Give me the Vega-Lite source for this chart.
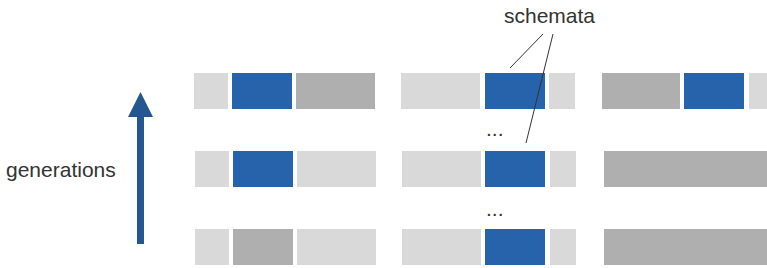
{
  "$schema": "https://vega.github.io/schema/vega-lite/v6.json",
  "width": 767,
  "height": 268,
  "autosize": "none",
  "padding": 0,
  "config": {"view": {"stroke": null}},
  "datasets": {
    "segments": [
      {"gen": 3, "start": 194, "end": 228, "type": "light"},
      {"gen": 3, "start": 232, "end": 292, "type": "schema"},
      {"gen": 3, "start": 296, "end": 375, "type": "dark"},
      {"gen": 3, "start": 401, "end": 480, "type": "light"},
      {"gen": 3, "start": 485, "end": 545, "type": "schema"},
      {"gen": 3, "start": 549, "end": 575, "type": "light"},
      {"gen": 3, "start": 602, "end": 680, "type": "dark"},
      {"gen": 3, "start": 684, "end": 744, "type": "schema"},
      {"gen": 3, "start": 749, "end": 767, "type": "light"},
      {"gen": 2, "start": 195, "end": 229, "type": "light"},
      {"gen": 2, "start": 233, "end": 293, "type": "schema"},
      {"gen": 2, "start": 297, "end": 376, "type": "light"},
      {"gen": 2, "start": 402, "end": 481, "type": "light"},
      {"gen": 2, "start": 485, "end": 545, "type": "schema"},
      {"gen": 2, "start": 550, "end": 576, "type": "light"},
      {"gen": 2, "start": 604, "end": 767, "type": "dark"},
      {"gen": 1, "start": 195, "end": 229, "type": "light"},
      {"gen": 1, "start": 233, "end": 293, "type": "dark"},
      {"gen": 1, "start": 297, "end": 376, "type": "light"},
      {"gen": 1, "start": 402, "end": 481, "type": "light"},
      {"gen": 1, "start": 485, "end": 545, "type": "schema"},
      {"gen": 1, "start": 550, "end": 576, "type": "light"},
      {"gen": 1, "start": 604, "end": 767, "type": "dark"}
    ],
    "shaft": [{"x": 140.5, "y": 117, "y2": 244}],
    "head": [{"x": 140.5, "y": 104.5}],
    "pointers": [
      {"x": 543, "y": 34, "x2": 510, "y2": 68},
      {"x": 553, "y": 34, "x2": 526, "y2": 143}
    ],
    "labels": [
      {"label": "generations", "x": 6, "y": 177},
      {"label": "schemata", "x": 504, "y": 23},
      {"label": "...", "x": 486, "y": 136},
      {"label": "...", "x": 486, "y": 216}
    ]
  },
  "layer": [
    {
      "data": {"name": "segments"},
      "mark": {"type": "rect"},
      "encoding": {
        "x": {"field": "start", "type": "quantitative", "scale": {"domain": [0, 767], "nice": false, "zero": false}, "axis": null},
        "x2": {"field": "end"},
        "y": {"field": "gen", "type": "ordinal", "scale": {"domain": [3, 2, 1], "range": [73, 265], "paddingInner": 0.5385, "paddingOuter": 0}, "axis": null},
        "color": {"field": "type", "type": "nominal", "scale": {"domain": ["schema", "dark", "light"], "range": ["#2663AA", "#AFAFAF", "#D9D9D9"]}, "legend": null}
      }
    },
    {
      "data": {"name": "shaft"},
      "mark": {"type": "rule", "strokeWidth": 7, "color": "#24568F", "strokeCap": "butt"},
      "encoding": {
        "x": {"field": "x", "type": "quantitative", "scale": {"domain": [0, 767], "nice": false, "zero": false}, "axis": null},
        "y": {"field": "y", "type": "quantitative", "scale": {"domain": [0, 268], "reverse": true, "nice": false, "zero": false}, "axis": null},
        "y2": {"field": "y2"}
      }
    },
    {
      "data": {"name": "head"},
      "mark": {"type": "point", "shape": "M0,-1L1,1L-1,1Z", "size": 625, "filled": true, "opacity": 1, "color": "#24568F", "strokeWidth": 0},
      "encoding": {
        "x": {"field": "x", "type": "quantitative", "scale": {"domain": [0, 767], "nice": false, "zero": false}, "axis": null},
        "y": {"field": "y", "type": "quantitative", "scale": {"domain": [0, 268], "reverse": true, "nice": false, "zero": false}, "axis": null}
      }
    },
    {
      "data": {"name": "pointers"},
      "mark": {"type": "rule", "strokeWidth": 1, "color": "#333333"},
      "encoding": {
        "x": {"field": "x", "type": "quantitative", "scale": {"domain": [0, 767], "nice": false, "zero": false}, "axis": null},
        "y": {"field": "y", "type": "quantitative", "scale": {"domain": [0, 268], "reverse": true, "nice": false, "zero": false}, "axis": null},
        "x2": {"field": "x2"},
        "y2": {"field": "y2"}
      }
    },
    {
      "data": {"name": "labels"},
      "mark": {"type": "text", "align": "left", "baseline": "alphabetic", "font": "Liberation Sans", "fontSize": 21, "color": "#333333"},
      "encoding": {
        "x": {"field": "x", "type": "quantitative", "scale": {"domain": [0, 767], "nice": false, "zero": false}, "axis": null},
        "y": {"field": "y", "type": "quantitative", "scale": {"domain": [0, 268], "reverse": true, "nice": false, "zero": false}, "axis": null},
        "text": {"field": "label", "type": "nominal"}
      }
    }
  ],
  "resolve": {"scale": {"y": "independent"}}
}
